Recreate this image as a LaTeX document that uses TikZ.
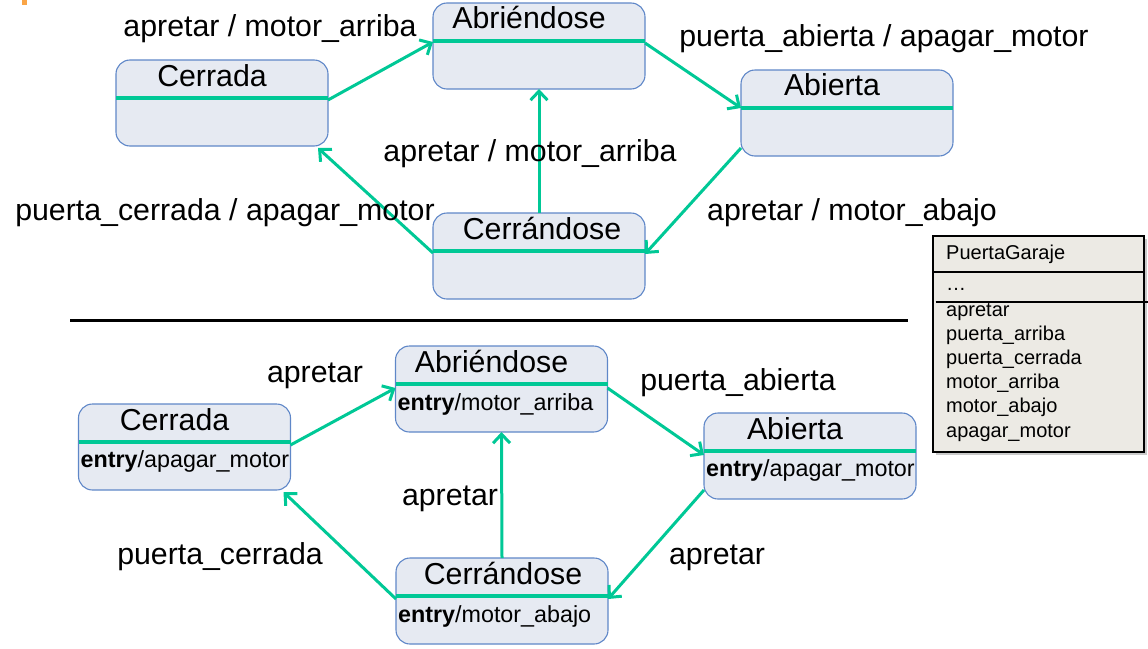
\documentclass[tikz,border=0pt]{standalone}
\usepackage{fontspec}
\setmainfont{Liberation Sans}
\usetikzlibrary{arrows.meta,shadows}
\definecolor{stgreen}{RGB}{0,200,150}
\definecolor{stfill}{RGB}{230,234,242}
\definecolor{stborder}{RGB}{95,135,200}
\definecolor{clsfill}{RGB}{236,234,228}
\definecolor{markorange}{RGB}{250,165,70}
\begin{document}
\begin{tikzpicture}[x=1pt,y=-1pt,
  state/.style={draw=stborder, line width=1.1pt, fill=stfill, rounded corners=14pt,
    minimum width=212pt, minimum height=86pt, inner sep=0pt, outer sep=0pt},
  divider/.style={draw=stgreen, line width=4pt},
  trans/.style={draw=stgreen, line width=3pt, -{Straight Barb[length=9pt,width=17pt]}},
  stitle/.style={font=\fontsize{30.3}{36}\selectfont, inner sep=0pt, anchor=base},
  sbody/.style={font=\fontsize{23.3}{28}\selectfont, inner sep=0pt, anchor=base west},
  lbl/.style={font=\fontsize{30.3}{36}\selectfont, inner sep=0pt, anchor=base},
  clstext/.style={font=\fontsize{20}{24}\selectfont, inner sep=0pt, anchor=base west},
  clsbox/.style={draw=black, line width=2pt, fill=clsfill, minimum width=211pt,
    minimum height=216pt, inner sep=0pt, outer sep=0pt,
    drop shadow={shadow xshift=3pt, shadow yshift=-3pt, fill=black!35, opacity=0.6}}
]
\useasboundingbox (0,0) rectangle (1148,648);
\fill[markorange] (22,0) rectangle (27,5);

% ---------- top diagram ----------
\node[state] (c1) at (222,103) {};
\node[state] (a1) at (539,46) {};
\node[state] (b1) at (847,113) {};
\node[state] (d1) at (539,256) {};
\foreach \n in {c1,a1,b1,d1}
  \draw[divider] ([yshift=-38pt]\n.north west) -- ([yshift=-38pt]\n.north east);
\node[stitle] (c1t) at ([xshift=-10pt,yshift=-26pt]c1.north) {Cerrada};
\node[stitle] (a1t) at ([xshift=-10pt,yshift=-25pt]a1.north) {Abriéndose};
\node[stitle] (b1t) at ([xshift=-15pt,yshift=-25pt]b1.north) {Abierta};
\node[stitle] (d1t) at ([xshift=3pt,yshift=-26pt]d1.north) {Cerrándose};

\draw[trans] ([yshift=-40pt]c1.north east) -- ([yshift=-39pt]a1.north west);
\draw[trans] ([yshift=-40pt]a1.north east) -- ([yshift=-38pt]b1.north west);
\draw[trans] ([yshift=8pt]b1.south west) -- ([yshift=-41pt]d1.north east);
\draw[trans] (d1.north) -- (a1.south);
\draw[trans] ([yshift=-40pt]d1.north west) -- ([xshift=-10pt,yshift=-2pt]c1.south east);

\node[lbl] (l1) at (270,36) {apretar / motor\_arriba};
\node[lbl] (l2) at (884,46) {puerta\_abierta / apagar\_motor};
\node[lbl] (l3) at (530,161) {apretar / motor\_arriba};
\node[lbl] (l4) at (225,220) {puerta\_cerrada / apagar\_motor};
\node[lbl] (l5) at (852,220) {apretar / motor\_abajo};

% ---------- separator ----------
\coordinate (sepL) at (70,320);
\coordinate (sepR) at (908,320);
\draw[line width=3pt] (sepL) -- (sepR);

% ---------- bottom diagram ----------
\node[state] (c2) at (184.5,447) {};
\node[state] (a2) at (501.5,389) {};
\node[state] (b2) at (810,456) {};
\node[state] (d2) at (502,601) {};
\foreach \n in {c2,a2,b2,d2}
  \draw[divider] ([yshift=-38pt]\n.north west) -- ([yshift=-38pt]\n.north east);
\node[stitle] (c2t) at ([xshift=-10pt,yshift=-26pt]c2.north) {Cerrada};
\node[stitle] (a2t) at ([xshift=-10pt,yshift=-26pt]a2.north) {Abriéndose};
\node[stitle] (b2t) at ([xshift=-15pt,yshift=-26pt]b2.north) {Abierta};
\node[stitle] (d2t) at ([xshift=1pt,yshift=-26pt]d2.north) {Cerrándose};
\node[sbody] (c2b) at ([xshift=2pt,yshift=-63pt]c2.north west) {\textbf{entry}/apagar\_motor};
\node[sbody] (a2b) at ([xshift=2pt,yshift=-64pt]a2.north west) {\textbf{entry}/motor\_arriba};
\node[sbody] (b2b) at ([xshift=2pt,yshift=-63pt]b2.north west) {\textbf{entry}/apagar\_motor};
\node[sbody] (d2b) at ([xshift=2pt,yshift=-64pt]d2.north west) {\textbf{entry}/motor\_abajo};

\draw[trans] ([yshift=-41pt]c2.north east) -- ([yshift=-42pt]a2.north west);
\draw[trans] ([yshift=-42pt]a2.north east) -- ([yshift=-42pt]b2.north west);
\draw[trans] ([yshift=9pt]b2.south west) -- ([yshift=-41pt]d2.north east);
\draw[trans] (d2.north) -- (a2.south);
\draw[trans] ([yshift=-41pt]d2.north west) -- ([xshift=-7pt,yshift=-2pt]c2.south east);

\node[lbl] (m1) at (315,382) {apretar};
\node[lbl] (m2) at (738,390) {puerta\_abierta};
\node[lbl] (m3) at (450,505) {apretar};
\node[lbl] (m4) at (220,564) {puerta\_cerrada};
\node[lbl] (m5) at (717,564) {apretar};

% ---------- class box ----------
\node[clsbox] (cls) at (1038,343.5) {};
\draw[line width=2pt] ([yshift=-36pt]cls.north west) -- ([yshift=-36pt]cls.north east);
\draw[line width=2pt] ([xshift=3pt,yshift=-66pt]cls.north west) -- ([xshift=5pt,yshift=-66pt]cls.north east);
\node[clstext] (k0) at (946,259) {PuertaGaraje};
\node[clstext] (k1) at (946,290) {…};
\node[clstext] (k2) at (946,316) {apretar};
\node[clstext] (k3) at (946,340) {puerta\_arriba};
\node[clstext] (k4) at (946,364) {puerta\_cerrada};
\node[clstext] (k5) at (946,388) {motor\_arriba};
\node[clstext] (k6) at (946,412) {motor\_abajo};
\node[clstext] (k7) at (946,437) {apagar\_motor};
\end{tikzpicture}
\end{document}
